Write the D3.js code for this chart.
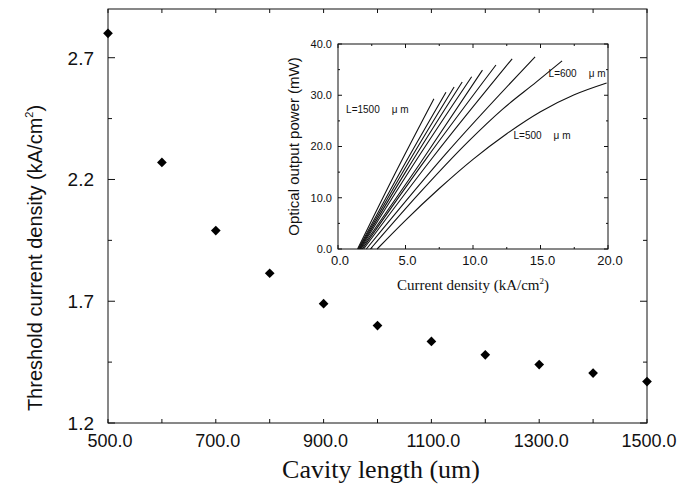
<!DOCTYPE html>
<html>
<head>
<meta charset="utf-8">
<script src="https://cdn.jsdelivr.net/npm/d3@7"></script>
<style>
  body { margin: 0; background: #fff; }
  svg { display: block; }
</style>
</head>
<body>
<div id="chart"></div>
<script>
// main plot: threshold current density vs cavity length
const cavityLengths = [500, 600, 700, 800, 900, 1000, 1100, 1200, 1300, 1400, 1500];
const thresholdJ = [2.80, 2.27, 1.99, 1.815, 1.69, 1.60, 1.535, 1.48, 1.44, 1.405, 1.37];
const mainXTicks = [500, 700, 900, 1100, 1300, 1500];
const mainYTicks = [1.2, 1.7, 2.2, 2.7];

// inset: L-I curves, one per cavity length, [current density, power]
const insetLengths = [500, 600, 700, 800, 900, 1000, 1100, 1200, 1300, 1400, 1500];
const insetCurves = [
  [[2.9, 0], [5.0, 5.6], [7.5, 11.8], [10.0, 17.5], [12.5, 22.5], [15.0, 26.8], [17.5, 30.1], [19.9, 32.4]],
  [[2.4, 0], [6.0, 10.8], [9.7, 21.1], [12.2, 27.3], [14.7, 32.6], [16.6, 36.7]],
  [[2.1, 0], [8.0, 18.6], [14.6, 37.5]],
  [[1.9, 0], [7.0, 17.8], [12.9, 37.1]],
  [[1.8, 0], [6.5, 17.5], [11.7, 35.9]],
  [[1.7, 0], [6.0, 16.4], [10.7, 34.9]],
  [[1.65, 0], [5.5, 16.1], [9.9, 33.6]],
  [[1.6, 0], [5.0, 15.0], [9.2, 32.6]],
  [[1.55, 0], [5.0, 15.9], [8.6, 31.6]],
  [[1.5, 0], [4.5, 14.5], [8.0, 30.6]],
  [[1.45, 0], [4.2, 14.6], [7.1, 29.3]]
];
const insetXTicks = [0, 5, 10, 15, 20];
const insetYTicks = [0, 10, 20, 30, 40];
const insetLabels = [
  { text: "L=1500", x: 0.6, y: 26.5 },
  { text: "L=600", x: 15.6, y: 33.5 },
  { text: "L=500", x: 13.0, y: 21.5 }
];

const width = 691, height = 485;
const svg = d3.select("#chart")
  .append("svg")
  .attr("width", width)
  .attr("height", height);

const ink = "#111";

// ---- main axes ----
const x = d3.scaleLinear().domain([500, 1500]).range([108, 647]);
const y = d3.scaleLinear().domain([1.2, 2.9]).range([423, 9]);

svg.append("rect")
  .attr("x", x(500)).attr("y", y(2.9))
  .attr("width", x(1500) - x(500)).attr("height", y(1.2) - y(2.9))
  .attr("fill", "none").attr("stroke", ink).attr("stroke-width", 1);

// inward ticks on all four sides
const xTickAll = d3.range(500, 1501, 100);
const yTickAll = d3.range(1.2, 2.91, 0.25);
svg.append("g").selectAll("line")
  .data(xTickAll)
  .join("line")
  .attr("x1", d => x(d)).attr("x2", d => x(d))
  .attr("y1", y(1.2)).attr("y2", y(1.2) - 4)
  .attr("stroke", ink);
svg.append("g").selectAll("line")
  .data(xTickAll)
  .join("line")
  .attr("x1", d => x(d)).attr("x2", d => x(d))
  .attr("y1", y(2.9)).attr("y2", y(2.9) + 4)
  .attr("stroke", ink);
svg.append("g").selectAll("line")
  .data(yTickAll)
  .join("line")
  .attr("x1", x(500)).attr("x2", (d, i) => x(500) + (i % 2 ? 4 : 7))
  .attr("y1", d => y(d)).attr("y2", d => y(d))
  .attr("stroke", ink);
svg.append("g").selectAll("line")
  .data(yTickAll)
  .join("line")
  .attr("x1", x(1500)).attr("x2", (d, i) => x(1500) - (i % 2 ? 4 : 7))
  .attr("y1", d => y(d)).attr("y2", d => y(d))
  .attr("stroke", ink);

svg.append("g").selectAll("text")
  .data(mainXTicks)
  .join("text")
  .attr("x", d => x(d) + 2)
  .attr("y", 447)
  .attr("text-anchor", "middle")
  .style("font-family", "Liberation Sans, Arial, sans-serif")
  .style("font-size", "18px")
  .attr("fill", ink)
  .text(d => d3.format(".1f")(d));

svg.append("g").selectAll("text")
  .data(mainYTicks)
  .join("text")
  .attr("x", x(500) - 14)
  .attr("y", d => y(d))
  .attr("dy", "0.36em")
  .attr("text-anchor", "end")
  .style("font-family", "Liberation Sans, Arial, sans-serif")
  .style("font-size", "19px")
  .attr("fill", ink)
  .text(d => d.toFixed(1));

// axis titles
const yTitle = svg.append("text")
  .attr("text-anchor", "middle")
  .attr("transform", `translate(42,258)rotate(-90)`)
  .style("font-family", "Liberation Sans, Arial, sans-serif")
  .style("font-size", "20px")
  .attr("fill", ink);
yTitle.append("tspan").text("Threshold current density (kA/cm");
yTitle.append("tspan").attr("dy", -9).style("font-size", "11px").text("2");
yTitle.append("tspan").attr("dy", 9).text(")");

svg.append("text")
  .attr("text-anchor", "middle")
  .attr("x", 381)
  .attr("y", 478)
  .style("font-family", "Liberation Serif, Times New Roman, serif")
  .style("font-size", "26px")
  .attr("fill", ink)
  .text("Cavity length (um)");

// data points
svg.append("g").selectAll("path")
  .data(cavityLengths.map((d, i) => [d, thresholdJ[i]]))
  .join("path")
  .attr("d", d3.symbol().type(d3.symbolDiamond2).size(60))
  .attr("transform", d => `translate(${x(d[0])},${y(d[1])})`)
  .attr("fill", "#000");

// ---- inset ----
const ix = d3.scaleLinear().domain([0, 20]).range([338, 608]);
const iy = d3.scaleLinear().domain([0, 40]).range([249, 44]);

svg.append("rect")
  .attr("x", ix(0)).attr("y", iy(40))
  .attr("width", ix(20) - ix(0)).attr("height", iy(0) - iy(40))
  .attr("fill", "#fff").attr("stroke", ink).attr("stroke-width", 1);

const ixAll = d3.range(0, 20.1, 2.5);
const iyAll = d3.range(0, 40.1, 5);
svg.append("g").selectAll("line")
  .data(ixAll)
  .join("line")
  .attr("x1", d => ix(d)).attr("x2", d => ix(d))
  .attr("y1", iy(0)).attr("y2", (d, i) => iy(0) - (i % 2 ? 2 : 4))
  .attr("stroke", ink);
svg.append("g").selectAll("line")
  .data(ixAll)
  .join("line")
  .attr("x1", d => ix(d)).attr("x2", d => ix(d))
  .attr("y1", iy(40)).attr("y2", (d, i) => iy(40) + (i % 2 ? 2 : 4))
  .attr("stroke", ink);
svg.append("g").selectAll("line")
  .data(iyAll)
  .join("line")
  .attr("x1", ix(0)).attr("x2", (d, i) => ix(0) + (i % 2 ? 2 : 4))
  .attr("y1", d => iy(d)).attr("y2", d => iy(d))
  .attr("stroke", ink);
svg.append("g").selectAll("line")
  .data(iyAll)
  .join("line")
  .attr("x1", ix(20)).attr("x2", (d, i) => ix(20) - (i % 2 ? 2 : 4))
  .attr("y1", d => iy(d)).attr("y2", d => iy(d))
  .attr("stroke", ink);

svg.append("g").selectAll("text")
  .data(insetXTicks)
  .join("text")
  .attr("x", d => ix(d) + 2)
  .attr("y", 265)
  .attr("text-anchor", "middle")
  .style("font-family", "Liberation Sans, Arial, sans-serif")
  .style("font-size", "13px")
  .attr("fill", ink)
  .text(d => d.toFixed(1));

svg.append("g").selectAll("text")
  .data(insetYTicks)
  .join("text")
  .attr("x", ix(0) - 6)
  .attr("y", d => iy(d))
  .attr("dy", "0.36em")
  .attr("text-anchor", "end")
  .style("font-family", "Liberation Sans, Arial, sans-serif")
  .style("font-size", "11px")
  .attr("fill", ink)
  .text(d => d.toFixed(1));

svg.append("text")
  .attr("text-anchor", "middle")
  .attr("transform", `translate(299,${(44 + 249) / 2})rotate(-90)`)
  .style("font-family", "Liberation Sans, Arial, sans-serif")
  .style("font-size", "15px")
  .attr("fill", ink)
  .text("Optical output power (mW)");

const ixTitle = svg.append("text")
  .attr("text-anchor", "middle")
  .attr("x", 473)
  .attr("y", 290)
  .style("font-family", "Liberation Serif, Times New Roman, serif")
  .style("font-size", "15px")
  .attr("fill", ink);
ixTitle.append("tspan").text("Current density (kA/cm");
ixTitle.append("tspan").attr("dy", -6).style("font-size", "9px").text("2");
ixTitle.append("tspan").attr("dy", 6).text(")");

const line = d3.line()
  .x(d => ix(d[0]))
  .y(d => iy(d[1]))
  .curve(d3.curveMonotoneX);

svg.append("g").selectAll("path")
  .data(insetCurves)
  .join("path")
  .attr("d", line)
  .attr("fill", "none")
  .attr("stroke", ink)
  .attr("stroke-width", 1.1);

const lab = svg.append("g").selectAll("text")
  .data(insetLabels)
  .join("text")
  .attr("x", d => ix(d.x))
  .attr("y", d => iy(d.y))
  .style("font-family", "Liberation Sans, Arial, sans-serif")
  .style("font-size", "10px")
  .attr("fill", ink);
lab.append("tspan").text(d => d.text);
lab.append("tspan").attr("dx", 12).text("μ m");
</script>
</body>
</html>
